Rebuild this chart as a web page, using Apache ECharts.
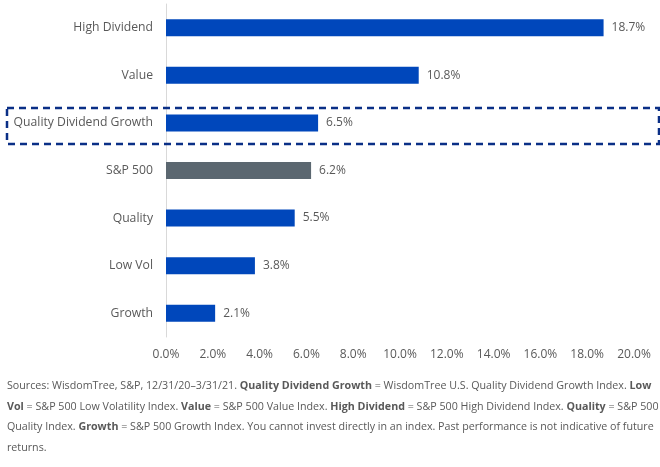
<!DOCTYPE html>
<html>
<head>
<meta charset="utf-8">
<script src="https://cdn.jsdelivr.net/npm/echarts@6/dist/echarts.min.js"></script>
<style>
  html, body { margin: 0; padding: 0; background: #ffffff; }
  #chart { width: 660px; height: 467px; }
</style>
</head>
<body>
<div id="chart"></div>
<script>
// index returns, 12/31/20-3/31/21
var categories = ["High Dividend", "Value", "Quality Dividend Growth", "S&P 500", "Quality", "Low Vol", "Growth"];
var returns = [18.7, 10.8, 6.5, 6.2, 5.5, 3.8, 2.1];
var benchmark = "S&P 500";
var highlighted = "Quality Dividend Growth";

var footnoteLines = [
  "Sources: WisdomTree, S&P, 12/31/20\u20133/31/21. {b|Quality Dividend Growth} = WisdomTree U.S. Quality Dividend Growth Index. {b|Low}",
  "{b|Vol} = S&P 500 Low Volatility Index. {b|Value} = S&P 500 Value Index. {b|High Dividend} = S&P 500 High Dividend Index. {b|Quality} = S&P 500",
  "Quality Index. {b|Growth} = S&P 500 Growth Index. You cannot invest directly in an index. Past performance is not indicative of future",
  "returns."
];

var font = "Open Sans";
var textColor = "#595959";

var chart = echarts.init(document.getElementById("chart"));

chart.setOption({
  backgroundColor: "#ffffff",
  animation: false,
  grid: {
    left: 166,
    right: 26,
    top: 4,
    bottom: 130
  },
  xAxis: {
    type: "value",
    min: 0,
    max: 20,
    interval: 2,
    axisLine: { show: false },
    axisTick: { show: false },
    splitLine: { show: false },
    axisLabel: {
      margin: 12,
      color: textColor,
      fontFamily: font,
      fontSize: 12,
      formatter: function(v) {
        return v.toFixed(1) + "%";
      }
    }
  },
  yAxis: {
    type: "category",
    inverse: true,
    data: categories,
    axisLine: { show: true, lineStyle: { color: "#d9d9d9", width: 1 } },
    axisTick: { show: false },
    axisLabel: {
      margin: 13,
      color: textColor,
      fontFamily: font,
      fontSize: 12.2
    }
  },
  series: [
    {
      type: "bar",
      data: returns,
      barWidth: 17,
      itemStyle: {
        color: function(p) {
          return p.name === benchmark ? "#5b6770" : "#0047bb";
        }
      },
      label: {
        show: true,
        position: "right",
        distance: 8,
        color: textColor,
        fontFamily: font,
        fontSize: 12,
        formatter: function(p) {
          return p.value.toFixed(1) + "%";
        }
      }
    }
  ]
});

// dashed box around the highlighted category
var hy = chart.convertToPixel({ yAxisIndex: 0 }, highlighted);

chart.setOption({
  graphic: [
    {
      type: "rect",
      shape: { x: 7, y: hy - 15, width: 652, height: 36 },
      style: {
        fill: null,
        stroke: "#0a2f86",
        lineWidth: 2.5,
        lineDash: [7, 5]
      },
      z: 10
    },
    {
      type: "text",
      left: 7,
      top: 376,
      style: {
        text: footnoteLines.join("\n"),
        fill: textColor,
        fontFamily: font,
        fontSize: 10.7,
        lineHeight: 20.5,
        rich: {
          b: {
            fontWeight: "bold",
            fill: textColor,
            fontFamily: font,
            fontSize: 10.7,
            lineHeight: 20.5
          }
        }
      }
    }
  ]
});
</script>
</body>
</html>
